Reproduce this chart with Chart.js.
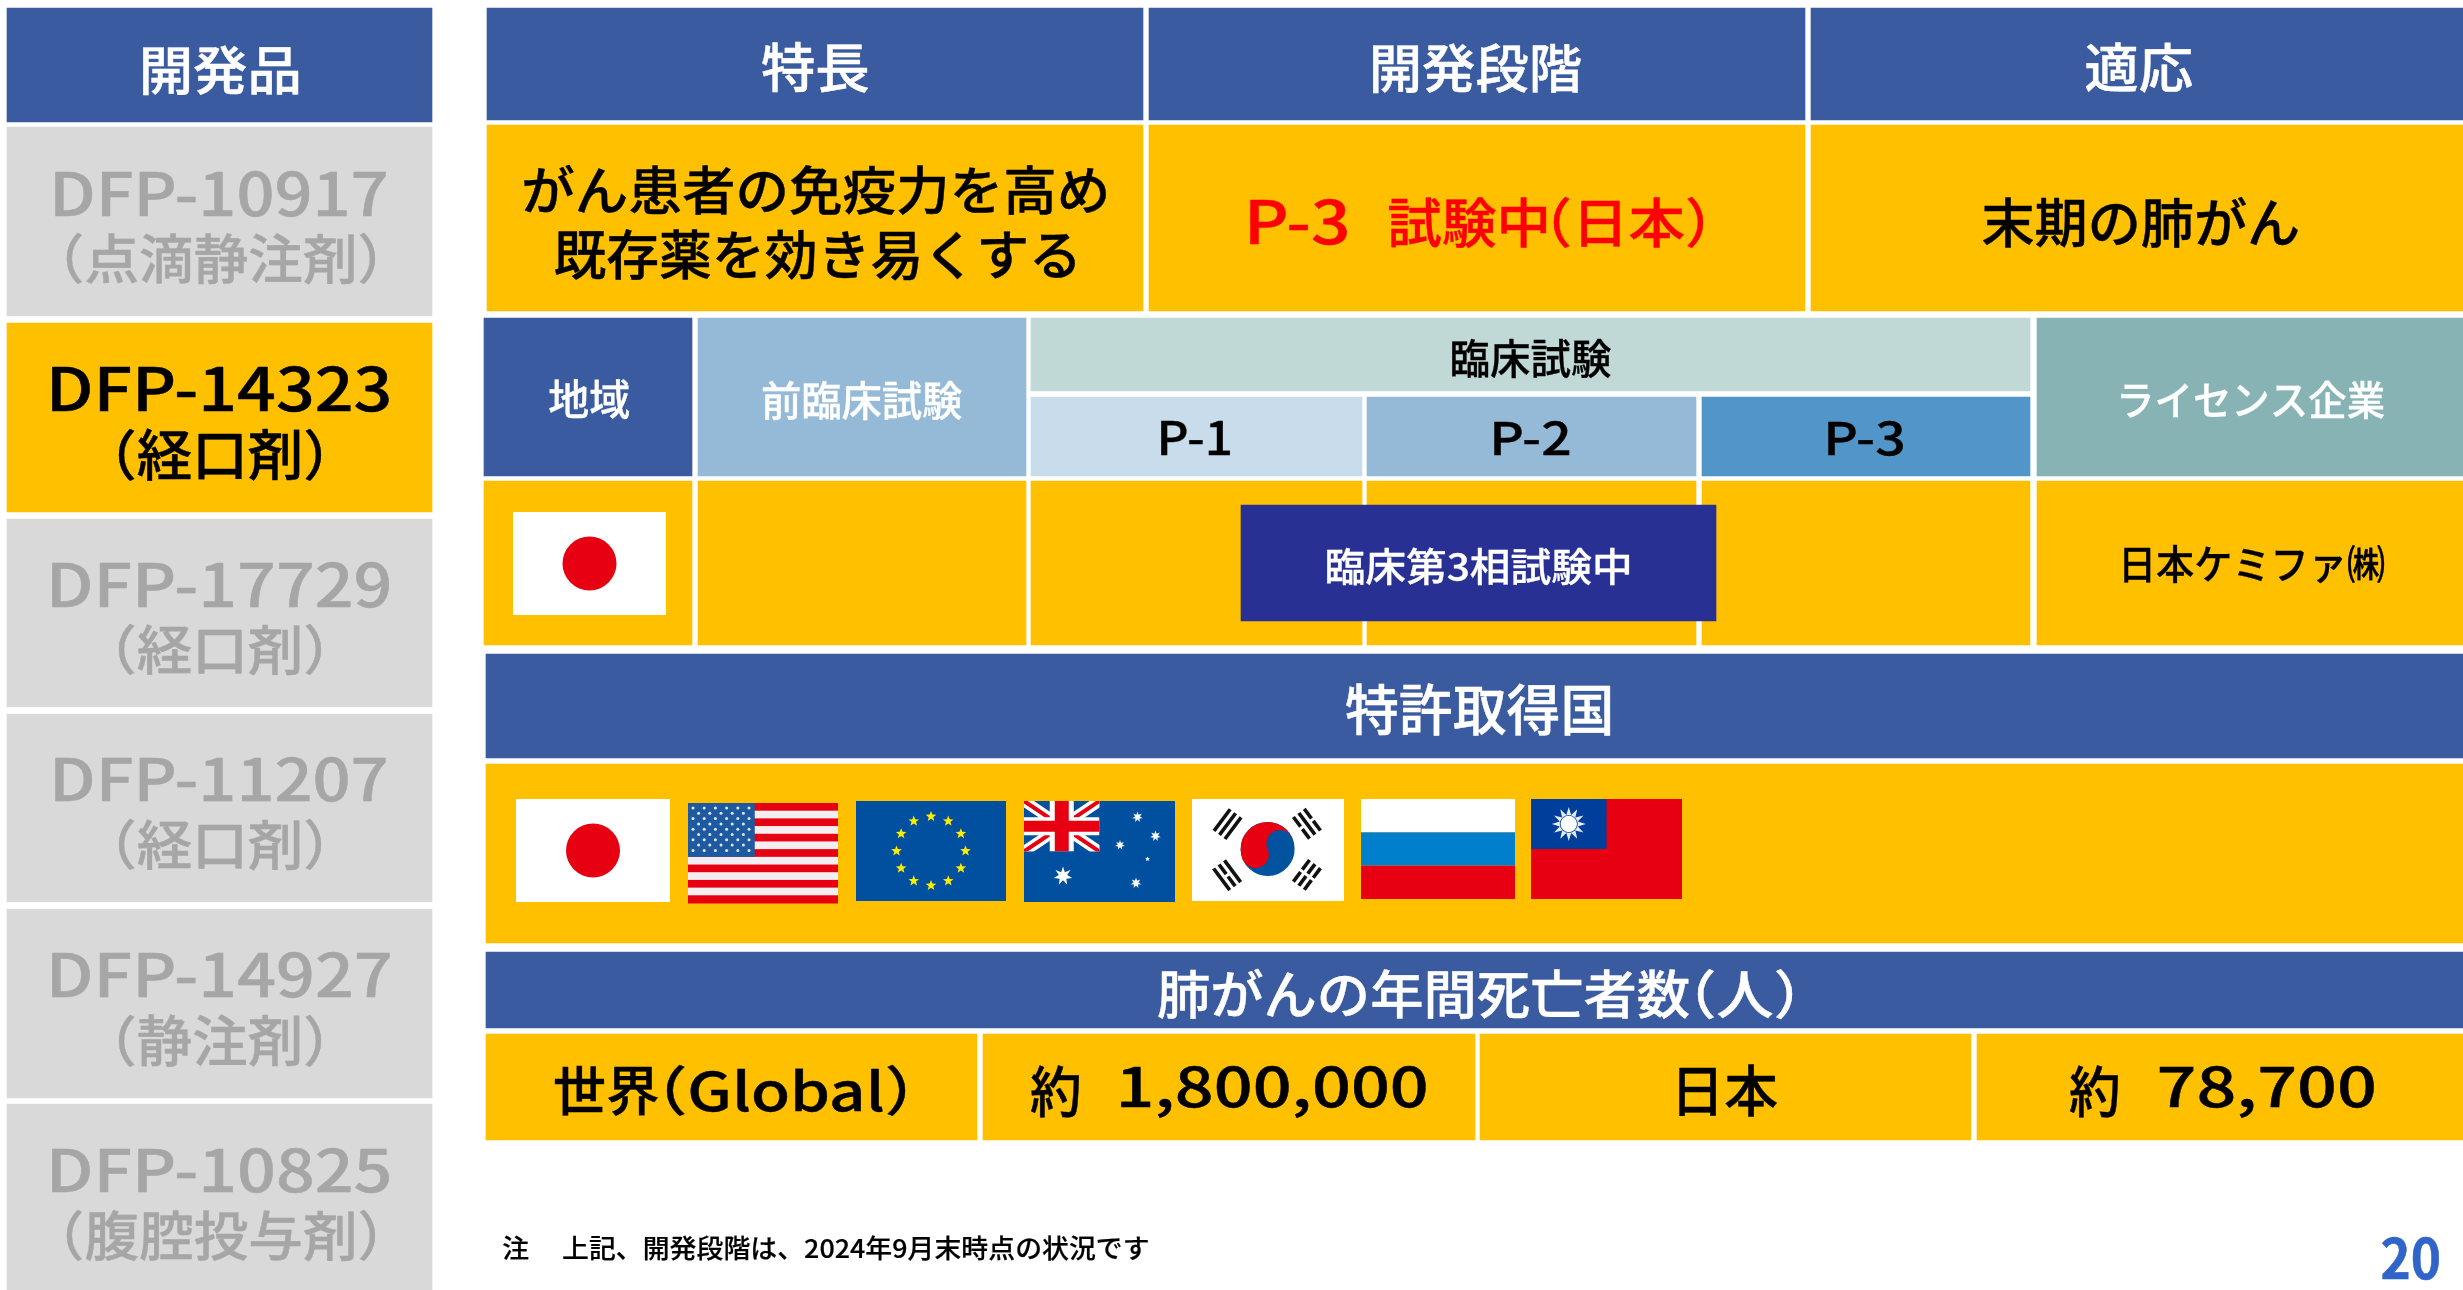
<!DOCTYPE html>
<html lang="ja"><head><meta charset="utf-8">
<style>html,body{margin:0;padding:0;background:#fff}canvas{display:block}</style>
<script src="https://cdn.jsdelivr.net/npm/chart.js@4"></script>
</head><body><canvas id="c" width="2463" height="1290"></canvas>
<script>
// ---- content ----
const productCodes = ['DFP-10917','DFP-14323','DFP-17729','DFP-11207','DFP-14927','DFP-10825'];
const productForms = ['（点滴静注剤）','（経口剤）','（経口剤）','（経口剤）','（静注剤）','（腹腔投与剤）'];
const topHeaders = ['開発品','特長','開発段階','適応'];
const featureLines = ['がん患者の免疫力を高め','既存薬を効き易くする'];
const stageParts = ['P-3','試験中','（日本）'];
const indication = '末期の肺がん';
const pipelineHeaders = ['地域','前臨床試験','臨床試験','ライセンス企業'];
const phases = ['P-1','P-2','P-3'];
const statusLabel = '臨床第3相試験中';
const licensee = '日本ケミファ㈱';
const patentTitle = '特許取得国';
const deathsTitle = ['肺がんの年間死亡者数','（人）'];
const worldLabel = ['世界','（Global）'];
const approx = '約';
const worldDeaths = '1,800,000';
const japanLabel = '日本';
const japanDeaths = '78,700';
const note = '注　 上記、開発段階は、2024年9月末時点の状況です';
const pageNumber = '20';

// ---- palette ----
const NAVY='#3B5BA0', GOLD='#FFC000', GREY='#D9D9D9', GREYTXT='#A6A6A6', INK='#000000', WHITE='#FFFFFF';

// ---- layout of the table cells on the x (0..2463) and y (0..1290) scales: [x0,x1,y0,y1,colour] ----
const cells = [
  [1241,1716,505,621,'#283193'],
  [7,432,8,122,NAVY],
  [7,432,127,316,GREY],[7,432,323,512,GOLD],[7,432,519,707,GREY],
  [7,432,714,902,GREY],[7,432,909,1098,GREY],[7,432,1104,1290,GREY],
  [487,1143,8,120,NAVY],[1149,1805,8,120,NAVY],[1811,2463,8,120,NAVY],
  [487,1143,125,311,GOLD],[1149,1805,125,311,GOLD],[1811,2463,125,311,GOLD],
  [484,692,318,476,NAVY],[698,1026,318,476,'#95BAD8'],
  [1031,2030,318,391,'#C1D9D6'],
  [1031,1362,397,476,'#C9DCEB'],[1367,1696,397,476,'#95BAD8'],[1702,2030,397,476,'#5195C9'],
  [2037,2463,318,476,'#87B3B5'],
  [484,692,481,645,GOLD],[698,1026,481,645,GOLD],[1031,1362,481,645,GOLD],
  [1367,1696,481,645,GOLD],[1702,2030,481,645,GOLD],[2037,2463,481,645,GOLD],
  [486,2463,654,758,NAVY],[486,2463,764,943,GOLD],
  [486,2463,952,1028,NAVY],
  [486,977,1034,1140,GOLD],[983,1475,1034,1140,GOLD],[1480,1971,1034,1140,GOLD],[1977,2463,1034,1140,GOLD]
];

// ---- text placement: [string, inkX0, inkX1, inkY0, inkY1, colour, weight] ----
const labels = [
  [topHeaders[0],143,298,45,95,WHITE],
  [topHeaders[1],762,868,42,93,WHITE],
  [topHeaders[2],1373,1581,43,93,WHITE],
  [topHeaders[3],2086,2192,43,93,WHITE],
  [productCodes[0],55,386,172,217,GREYTXT],[productForms[0],67,375,233,284,GREYTXT],
  [productCodes[1],52,389,367,412,INK],[productForms[1],119,321,428,480,INK],
  [productCodes[2],52,389,563,608,GREYTXT],[productForms[2],119,321,624,675,GREYTXT],
  [productCodes[3],55,386,758,802,GREYTXT],[productForms[3],119,321,819,870,GREYTXT],
  [productCodes[4],52,390,953,998,GREYTXT],[productForms[4],119,321,1014,1066,GREYTXT],
  [productCodes[5],52,389,1149,1193,GREYTXT],[productForms[5],67,375,1210,1261,GREYTXT],
  [featureLines[0],524,1106,165,215,INK],[featureLines[1],555,1075,229,280,INK],
  [stageParts[0],1250,1347,200,245,'#FF0000'],[stageParts[1],1389,1546,197,248,'#FF0000'],[stageParts[2],1554,1703,197,248,'#FF0000'],
  [indication,1983,2298,197,248,INK],
  [pipelineHeaders[0],549,629,380,419,WHITE],[pipelineHeaders[1],763,962,381,420,WHITE],
  [pipelineHeaders[2],1452,1611,339,378,INK],[pipelineHeaders[3],2121,2384,381,419,WHITE],
  [phases[0],1161,1230,421,455,INK],[phases[1],1494,1569,421,455,INK],[phases[2],1828,1903,421,455,INK],
  [statusLabel,1327,1629,548,585,WHITE],[licensee,2124,2384,545,583,INK],
  [patentTitle,1346,1610,683,735,WHITE],
  [deathsTitle[0],1158,1689,969,1019,WHITE],[deathsTitle[1],1698,1792,969,1019,WHITE],
  [worldLabel[0],555,658,1065,1116,INK],[worldLabel[1],667,905,1065,1116,INK],
  [approx,1031,1079,1065,1117,INK],[worldDeaths,1121,1426,1066,1118,INK],
  [japanLabel,1679,1777,1065,1116,INK],
  [approx,2070,2118,1065,1117,INK],[japanDeaths,2160,2374,1066,1118,INK],
  [note,503,1148,1236,1261,INK],
  [pageNumber,2382,2439,1238,1280,'#3064C8','bold']
];

// ---- flags: [kind, x0, x1, y0, y1] ----
const flags = [
  ['jp',513,666,512,615],['jp',516,670,799,902],['us',688,838,803,903],['eu',856,1006,801,901],
  ['au',1024,1175,801,902],['kr',1192,1344,799,901],['ru',1361,1515,799,899],['tw',1531,1682,799,899]
];

const datasets = cells.map(c => ({
  data:[{x:(c[0]+c[1])/2, y:[c[2],c[3]]}],
  barThickness:c[1]-c[0],
  backgroundColor:c[4],
  borderWidth:0,
  grouped:false
}));

function star(ctx,cx,cy,r,n,inner,fill,rot){
  ctx.beginPath();
  for(let i=0;i<n*2;i++){
    const a=(rot||-Math.PI/2)+i*Math.PI/n, q=i%2?r*inner:r;
    const px=cx+q*Math.cos(a), py=cy+q*Math.sin(a);
    i?ctx.lineTo(px,py):ctx.moveTo(px,py);
  }
  ctx.closePath();ctx.fillStyle=fill;ctx.fill();
}
function rect(ctx,x,y,w,h,f){ctx.fillStyle=f;ctx.fillRect(x,y,w,h);}

const flagPainters = {
  jp(ctx,x,y,w,h){
    rect(ctx,x,y,w,h,'#fff');
    ctx.beginPath();ctx.arc(x+w/2,y+h/2,27,0,7);ctx.fillStyle='#E60012';ctx.fill();
  },
  us(ctx,x,y,w,h){
    const s=h/13;
    for(let i=0;i<13;i++) rect(ctx,x,y+i*s,w,s+0.5,i%2?'#F4EEF2':'#E60012');
    const cw=w*0.445, ch=s*7;
    rect(ctx,x,y,cw,ch,'#1F5AA0');
    for(let r=0;r<9;r++){
      const n=r%2?5:6;
      for(let k=0;k<n;k++){
        const px=x+5+(r%2?5.6:0)+k*11.2, py=y+5+r*5.3;
        ctx.beginPath();ctx.arc(px,py,1.5,0,7);ctx.fillStyle='#DCE8F4';ctx.fill();
      }
    }
  },
  eu(ctx,x,y,w,h){
    rect(ctx,x,y,w,h,'#00509F');
    for(let i=0;i<12;i++){
      const a=i*Math.PI/6;
      star(ctx,x+w/2+34.5*Math.sin(a),y+h/2-34.5*Math.cos(a),5.6,5,0.42,'#FFED00');
    }
  },
  au(ctx,x,y,w,h){
    rect(ctx,x,y,w,h,'#00509F');
    const uw=w*0.5, uh=h*0.5;
    ctx.save();ctx.beginPath();ctx.rect(x,y,uw,uh);ctx.clip();
    ctx.strokeStyle='#fff';ctx.lineWidth=11;
    ctx.beginPath();ctx.moveTo(x,y);ctx.lineTo(x+uw,y+uh);ctx.moveTo(x+uw,y);ctx.lineTo(x,y+uh);ctx.stroke();
    ctx.strokeStyle='#E60012';ctx.lineWidth=4;
    ctx.beginPath();ctx.moveTo(x,y);ctx.lineTo(x+uw,y+uh);ctx.moveTo(x+uw,y);ctx.lineTo(x,y+uh);ctx.stroke();
    rect(ctx,x+uw/2-12,y,24,uh,'#fff');rect(ctx,x,y+uh/2-9,uw,18,'#fff');
    rect(ctx,x+uw/2-7,y,14,uh,'#E60012');rect(ctx,x,y+uh/2-5.5,uw,11,'#E60012');
    ctx.restore();
    const pts=[[39,75,9.5,7],[113.5,16,5.5,7],[131.5,35,5.5,7],[96,44,5,7],[123.5,58,2.6,5],[112,82,5.5,7]];
    pts.forEach(p=>star(ctx,x+p[0],y+p[1],p[2],p[3],0.45,'#fff'));
  },
  kr(ctx,x,y,w,h){
    rect(ctx,x,y,w,h,'#fff');
    const cx=x+w*0.4975, cy=y+h*0.49, r=27;
    ctx.save();ctx.translate(cx,cy);ctx.rotate(-0.42);
    ctx.beginPath();ctx.arc(0,0,r,0,7);ctx.fillStyle='#00539F';ctx.fill();
    ctx.beginPath();ctx.arc(0,0,r,Math.PI,0);ctx.fillStyle='#E60012';ctx.fill();
    ctx.beginPath();ctx.arc(-r/2,0,r/2,0,7);ctx.fillStyle='#E60012';ctx.fill();
    ctx.beginPath();ctx.arc(r/2,0,r/2,0,7);ctx.fillStyle='#00539F';ctx.fill();
    ctx.restore();
    const tri=[[0.234,0.246,-0.93,[1,1,1]],[0.756,0.243,0.93,[0,1,0]],[0.231,0.748,0.93,[1,0,1]],[0.756,0.744,-0.93,[0,0,0]]];
    tri.forEach(t=>{
      ctx.save();ctx.translate(x+w*t[0],y+h*t[1]);ctx.rotate(t[2]);
      t[3].forEach((solid,i)=>{
        const off=(i-1)*6.8;
        if(solid) rect(ctx,-13.5,off-1.8,27,3.6,'#111');
        else {rect(ctx,-13.5,off-1.8,12,3.6,'#111');rect(ctx,1.5,off-1.8,12,3.6,'#111');}
      });
      ctx.restore();
    });
  },
  ru(ctx,x,y,w,h){
    rect(ctx,x,y,w,h/3,'#fff');
    rect(ctx,x,y+h/3,w,h/3,'#0080CC');
    rect(ctx,x,y+2*h/3,w,h/3,'#E60012');
  },
  tw(ctx,x,y,w,h){
    rect(ctx,x,y,w,h,'#E60012');
    rect(ctx,x,y,w/2,h/2,'#003E9C');
    star(ctx,x+w/4,y+h/4,17,12,0.55,'#E4ECF6');
    ctx.beginPath();ctx.arc(x+w/4,y+h/4,9,0,7);ctx.fillStyle='#003E9C';ctx.fill();
    ctx.beginPath();ctx.arc(x+w/4,y+h/4,8.2,0,7);ctx.fillStyle='#fff';ctx.fill();
  }
};

const slidePlugin = {
  id:'slide',
  afterDatasetsDraw(chart){
    const ctx=chart.ctx, X=chart.scales.x, Y=chart.scales.y;
    flags.forEach(f=>{
      const x=X.getPixelForValue(f[1]), y=Y.getPixelForValue(f[3]);
      const w=X.getPixelForValue(f[2])-x, h=Y.getPixelForValue(f[4])-y;
      ctx.save();flagPainters[f[0]](ctx,x,y,w,h);ctx.restore();
    });
    labels.forEach(l=>{
      const x0=X.getPixelForValue(l[1]), x1=X.getPixelForValue(l[2]);
      const y0=Y.getPixelForValue(l[3]), y1=Y.getPixelForValue(l[4]);
      ctx.save();
      ctx.font=(l[6]||'500')+' 100px "Noto Sans CJK JP"';
      ctx.textAlign='left';ctx.textBaseline='alphabetic';
      const m=ctx.measureText(l[0]);
      const sx=(x1-x0)/(m.actualBoundingBoxLeft+m.actualBoundingBoxRight);
      const sy=(y1-y0)/(m.actualBoundingBoxAscent+m.actualBoundingBoxDescent);
      ctx.translate(x0+m.actualBoundingBoxLeft*sx, y0+m.actualBoundingBoxAscent*sy);
      ctx.scale(sx,sy);
      ctx.fillStyle=l[5];ctx.strokeStyle=l[5];
      ctx.lineWidth=(l[6]?0:0.8);ctx.lineJoin='round';
      if(ctx.lineWidth>0) ctx.strokeText(l[0],0,0);
      ctx.fillText(l[0],0,0);
      ctx.restore();
    });
  }
};

new Chart(document.getElementById('c'),{
  type:'bar',
  data:{datasets},
  plugins:[slidePlugin],
  options:{
    responsive:false,animation:false,devicePixelRatio:1,events:[],
    layout:{padding:0},
    plugins:{legend:{display:false},tooltip:{enabled:false},title:{display:false}},
    scales:{
      x:{type:'linear',min:0,max:2463,display:false,offset:false},
      y:{type:'linear',min:0,max:1290,reverse:true,display:false}
    }
  }
});
</script></body></html>
